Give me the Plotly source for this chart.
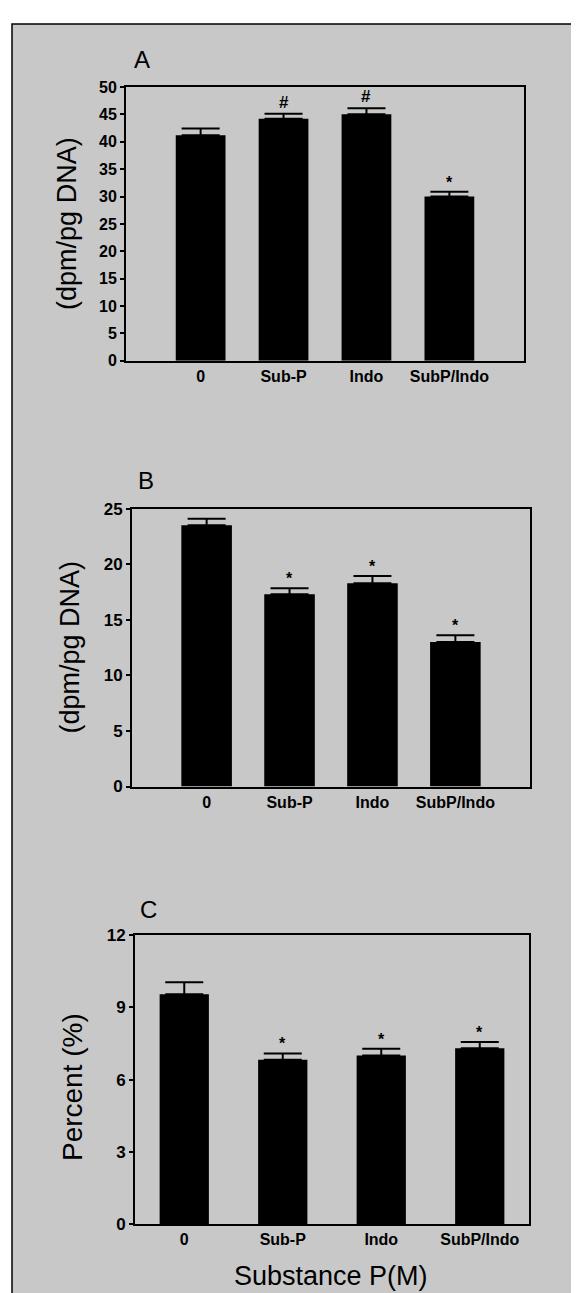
import plotly.graph_objects as go

# ---------------- data ----------------
categories = ["0", "Sub-P", "Indo", "SubP/Indo"]

a_values = [41.2, 44.2, 45.0, 30.0]
a_errors = [1.2, 0.9, 1.1, 0.85]
a_marks = ["", "#", "#", "*"]
a_ticks = [0, 5, 10, 15, 20, 25, 30, 35, 40, 45, 50]

b_values = [23.5, 17.3, 18.3, 13.0]
b_errors = [0.6, 0.55, 0.65, 0.6]
b_marks = ["", "*", "*", "*"]
b_ticks = [0, 5, 10, 15, 20, 25]

c_values = [9.55, 6.83, 7.0, 7.3]
c_errors = [0.5, 0.26, 0.28, 0.27]
c_marks = ["", "*", "*", "*"]
c_ticks = [0, 3, 6, 9, 12]

panel_letters = ["A", "B", "C"]
y_titles = ["(dpm/pg DNA)", "(dpm/pg DNA)", "Percent (%)"]
x_title = "Substance P(M)"

# ---------------- layout geometry (pixels) ----------------
W, H = 579, 1293
BG = "#c8c8c8"
FONT = "Liberation Sans"

panels = [
    dict(values=a_values, errors=a_errors, marks=a_marks, ticks=a_ticks,
         x0=118, x1=516, ytop=71, ybot=349, xr=[-0.9, 3.9], bw=0.6,
         letter=(134, 43), ytitle=(59, 210), tsize=27, tick=16),
    dict(values=b_values, errors=b_errors, marks=b_marks, ticks=b_ticks,
         x0=124, x1=522, ytop=499, ybot=781, xr=[-0.9, 3.9], bw=0.61,
         letter=(138, 470), ytitle=(62, 640), tsize=27, tick=17),
    dict(values=c_values, errors=c_errors, marks=c_marks, ticks=c_ticks,
         x0=127, x1=521, ytop=932, ybot=1225, xr=[-0.5, 3.5], bw=0.5,
         letter=(140, 906), ytitle=(64, 1086), tsize=28, tick=17),
]


def px(x):
    return x / W


def py(y):
    return 1 - y / H


fig = go.Figure()
annotations = []

for i, p in enumerate(panels):
    n = "" if i == 0 else str(i + 1)
    fig.add_trace(go.Bar(
        x=categories, y=p["values"], width=p["bw"],
        marker=dict(color="black", line=dict(width=0)),
        error_y=dict(type="data", array=p["errors"], symmetric=False,
                     arrayminus=[0] * len(p["errors"]),
                     color="black", thickness=2, width=19),
        xaxis="x" + n, yaxis="y" + n, showlegend=False,
    ))
    ymax = p["ticks"][-1]
    axis_common = dict(showline=True, linecolor="black", linewidth=2, mirror=True,
                       showgrid=False, zeroline=False)
    fig.update_layout(**{
        "xaxis" + n: dict(domain=[px(p["x0"]), px(p["x1"])], anchor="y" + n,
                          type="category", categoryorder="array", categoryarray=categories,
                          range=p["xr"], ticks="", ticklen=0,
                          tickfont=dict(family=FONT, size=16, color="black", weight="bold"),
                          **axis_common),
        "yaxis" + n: dict(domain=[py(p["ybot"]), py(p["ytop"])], anchor="x" + n,
                          range=[0, ymax], tickmode="array", tickvals=p["ticks"],
                          ticks="outside", ticklen=4, tickwidth=1.5, tickcolor="black",
                          tickfont=dict(family=FONT, size=p["tick"], color="black", weight="bold"),
                          **axis_common),
    })
    # significance marks
    for cat, v, e, m in zip(categories, p["values"], p["errors"], p["marks"]):
        if m:
            annotations.append(dict(
                x=cat, y=v + e, xref="x" + n, yref="y" + n, text="<b>" + m + "</b>",
                showarrow=False, yanchor="bottom", yshift=-1 if m == "*" else 0,
                font=dict(family=FONT, size=16 if m == "*" else 17, color="black")))
    # panel letter
    annotations.append(dict(x=px(p["letter"][0]), y=py(p["letter"][1]), xref="paper", yref="paper",
                            text=panel_letters[i], showarrow=False, xanchor="center", yanchor="middle",
                            font=dict(family=FONT, size=24, color="black")))
    # y title
    annotations.append(dict(x=px(p["ytitle"][0]), y=py(p["ytitle"][1]), xref="paper", yref="paper",
                            text=y_titles[i], textangle=-90, showarrow=False,
                            xanchor="center", yanchor="middle",
                            font=dict(family=FONT, size=p["tsize"], color="black")))

annotations.append(dict(x=px(323), y=py(1278), xref="paper", yref="paper", text=x_title,
                        showarrow=False, xanchor="center", yanchor="middle",
                        font=dict(family=FONT, size=27, color="black")))

fig.update_layout(
    width=W, height=H, autosize=False,
    margin=dict(l=0, r=0, t=0, b=0),
    paper_bgcolor="white", plot_bgcolor="rgba(0,0,0,0)",
    bargap=0.4,
    annotations=annotations,
    shapes=[dict(type="rect", xref="paper", yref="paper", layer="below",
                 x0=px(4), x1=1.05, y0=-0.05, y1=py(7),
                 fillcolor=BG, line=dict(color="black", width=1.5))],
)

fig.write_html("out.html")
